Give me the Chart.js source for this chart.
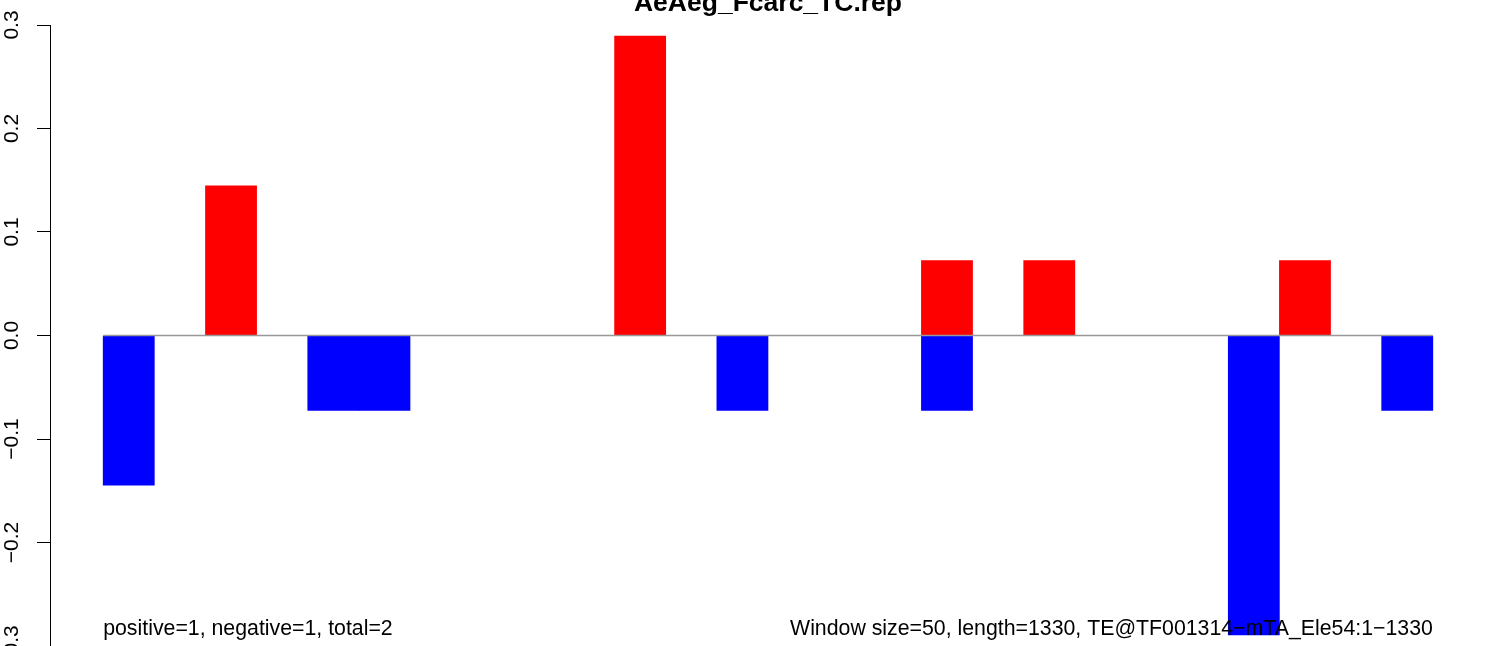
<!DOCTYPE html>
<html>
<head>
<meta charset="utf-8">
<style>
  html, body { margin: 0; padding: 0; background: #fff; }
  #wrap { width: 1506px; height: 646px; }
</style>
<script src="https://cdn.jsdelivr.net/npm/chart.js@4/dist/chart.umd.min.js"></script>
</head>
<body>
<div id="wrap"><canvas id="repChart"></canvas></div>
<script>
// window number along the TE (50 bp windows)
const windows = [1, 2, 3, 4, 5, 6, 7, 8, 9, 10, 11, 12, 13, 14, 15, 16, 17, 18, 19, 20, 21, 22, 23, 24, 25, 26];
const positive = [null, null, 0.1446, null, null, null, null, null, null, null, 0.2892, null, null, null, null, null, 0.0723, null, 0.0723, null, null, null, null, 0.0723, null, null];
const negative = [-0.1446, null, null, null, -0.0723, -0.0723, null, null, null, null, null, null, -0.0723, null, null, null, -0.0723, null, null, null, null, null, -0.2892, null, null, -0.0723];
const yTicks = [-0.3, -0.2, -0.1, 0.0, 0.1, 0.2, 0.3];

const chartTitle = 'AeAeg_Fcarc_TC.rep';
const countsNote = 'positive=1, negative=1, total=2';
const infoNote = 'Window size=50, length=1330, TE@TF001314\u2212mTA_Ele54:1\u22121330';

const FONT = '"Liberation Sans", Arial, Helvetica, sans-serif';

function fmtTick(v) {
  return v.toFixed(1).replace('-', '\u2212');
}

const rPlotExtras = {
  id: 'rPlotExtras',
  afterDatasetsDraw(chart) {
    const ctx = chart.ctx;
    const x = chart.scales.x;
    const y = chart.scales.y;
    ctx.save();
    ctx.strokeStyle = '#999999';
    ctx.lineWidth = 1.5;
    ctx.beginPath();
    ctx.moveTo(x.getPixelForValue(windows[0] - 0.5), y.getPixelForValue(0));
    ctx.lineTo(x.getPixelForValue(windows[windows.length - 1] + 0.5), y.getPixelForValue(0));
    ctx.stroke();
    ctx.restore();
  },
  afterDraw(chart) {
    const ctx = chart.ctx;
    const x = chart.scales.x;
    const area = chart.chartArea;
    ctx.save();
    ctx.fillStyle = '#000';
    ctx.textBaseline = 'alphabetic';

    ctx.font = 'bold 26.5px ' + FONT;
    ctx.textAlign = 'center';
    ctx.fillText(chartTitle, (area.left + area.right) / 2, 11);

    ctx.font = '21.3px ' + FONT;
    ctx.textAlign = 'left';
    ctx.fillText(countsNote, x.getPixelForValue(windows[0] - 0.5), 635);
    ctx.textAlign = 'right';
    ctx.fillText(infoNote, x.getPixelForValue(windows[windows.length - 1] + 0.5), 635);
    ctx.restore();
  }
};

const ctx = document.getElementById('repChart').getContext('2d');
const repChart = new Chart(ctx, {
  type: 'bar',
  data: {
    labels: windows,
    datasets: [{
      label: 'positive',
      data: positive,
      backgroundColor: '#ff0000',
      borderWidth: 0,
      grouped: false,
      barPercentage: 1.0,
      categoryPercentage: 1.0,
    }, {
      label: 'negative',
      data: negative,
      backgroundColor: '#0000ff',
      borderWidth: 0,
      grouped: false,
      barPercentage: 1.0,
      categoryPercentage: 1.0,
    }]
  },
  options: {
    responsive: true,
    maintainAspectRatio: false,
    animation: false,
    layout: {
      padding: { top: 25, right: 20, bottom: 0, left: 0 },
    },
    plugins: {
      legend: { display: false },
      title: { display: false },
      tooltip: { enabled: false },
    },
    scales: {
      x: {
        type: 'linear',
        display: false,
        offset: false,
        // R barplot adds 4% on each side of the bars
        min: windows[0] - 0.5 - 0.04 * windows.length,
        max: windows[windows.length - 1] + 0.5 + 0.04 * windows.length,
      },
      y: {
        min: yTicks[0],
        max: yTicks[yTicks.length - 1],
        afterBuildTicks(scale) {
          scale.ticks = yTicks.map(v => ({ value: v }));
        },
        afterFit(scale) {
          scale.width = 50;
          scale.paddingTop = 0;
          scale.paddingBottom = 0;
        },
        border: { display: true, color: '#000', width: 1 },
        grid: {
          drawOnChartArea: false,
          drawTicks: true,
          tickLength: 13,
          tickColor: '#000',
          tickWidth: 1,
        },
        ticks: {
          autoSkip: false,
          minRotation: 90,
          maxRotation: 90,
          crossAlign: 'center',
          padding: 4,
          color: '#000',
          font: { family: FONT, size: 21 },
          callback: (v) => fmtTick(v),
        },
      },
    },
  },
  plugins: [rPlotExtras],
});
</script>
</body>
</html>
